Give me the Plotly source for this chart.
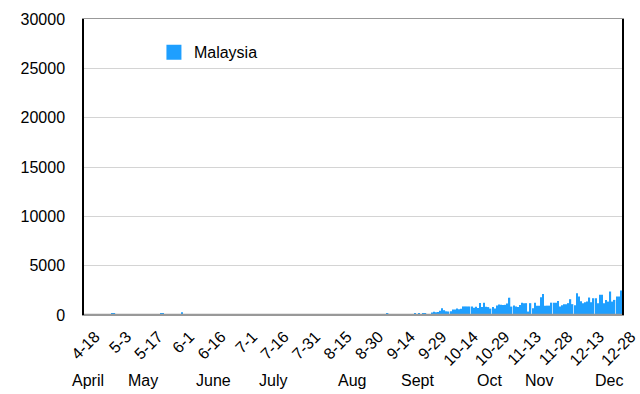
import plotly.graph_objects as go

# Daily new cases, one bar per reporting day (first bar labelled 4-18, last 12-28)
cases = [
    # Apr
    84, 36, 57, 50, 71, 88, 51, 38, 40, 31, 94, 57,
    # May
    69, 105, 122, 55, 30, 45, 39, 68, 54, 67, 70, 16, 37, 40, 36, 17, 22, 47, 37, 31,
    50, 78, 48, 60, 172, 187, 15, 10, 30, 38, 30,
    # Jun
    38, 20, 93, 277, 19, 37, 19, 7, 2, 7, 31, 33, 0, 7, 41, 10, 6, 8, 10, 9,
    3, 15, 4, 2, 6, 4, 6, 3, 3, 4,
    # Jul
    3, 1, 3, 3, 2, 8, 3, 5, 6, 4, 3, 8, 11, 3, 8, 4, 5, 10, 15, 18,
    10, 21, 13, 23, 15, 2, 7, 14, 9, 5, 12,
    # Aug
    11, 6, 13, 20, 11, 7, 13, 8, 22, 3, 15, 28, 25, 20, 7, 5, 6, 5, 18, 7,
    9, 5, 4, 2, 10, 7, 6, 9, 11, 4, 17,
    # Sep
    6, 2, 6, 21, 100, 62, 6, 20, 6, 182, 8, 20, 18, 2, 10, 21, 10, 23, 52, 45,
    57, 82, 147, 71, 111, 62, 115, 150, 101, 89,
    # Oct
    260, 317, 287, 293, 432, 691, 489, 375, 354, 374, 561, 563, 660, 589, 629, 869,
    871, 865, 862, 866, 732, 847, 710, 1228, 823, 1240, 835, 801, 649, 799, 659,
    # Nov
    957, 1054, 1032, 1009, 1032, 1168, 1755, 852, 972, 869, 822, 1011, 1250, 1200,
    1200, 350, 1200, 680, 1250, 950, 950, 1800, 2140, 950, 950, 950, 1250, 1250,
    1250, 1430,
    # Dec
    850, 1000, 1100, 1100, 1200, 1600, 1100, 1000, 2200, 1870, 1400, 1200, 1300,
    1370, 1770, 1295, 1700, 1700, 1200, 2040, 2040, 1200, 1530, 1360, 2380, 1360,
    1530, 1870, 1870, 2480,
]

tick_labels = ["4-18", "5-3", "5-17", "6-1", "6-16", "7-1", "7-16", "7-31", "8-15",
               "8-30", "9-14", "9-29", "10-14", "10-29", "11-13", "11-28", "12-13", "12-28"]
tick_step = 15

months = ["April", "May", "June", "July", "Aug", "Sept", "Oct", "Nov", "Dec"]
month_pos = [0.008, 0.110, 0.240, 0.351, 0.498, 0.619, 0.753, 0.846, 0.976]

series_name = "Malaysia"
bar_color = "#1E9FFF"
FONT = "Liberation Sans, Arial, Helvetica, sans-serif"

idx = list(range(len(cases)))

fig = go.Figure()
fig.add_trace(go.Bar(x=idx, y=cases, marker=dict(color=bar_color, line=dict(width=0)),
                     showlegend=False, name=series_name))
# legend swatch
fig.add_trace(go.Scatter(x=[None], y=[None], mode="markers", name=series_name,
                         marker=dict(symbol="square", size=15, color=bar_color)))

for m, p in zip(months, month_pos):
    fig.add_annotation(text=m, x=p, y=-0.22, xref="paper", yref="paper",
                       showarrow=False, xanchor="center", yanchor="middle",
                       font=dict(size=16, color="#000", family=FONT))

# baseline drawn over the bottom of the bars (as in the reference)
fig.add_shape(type="line", xref="paper", yref="y", x0=0, x1=1, y0=0, y1=0,
              line=dict(color="#999999", width=2.5), layer="above")

fig.update_layout(
    width=640, height=394,
    margin=dict(l=84, r=18, t=19, b=79, autoexpand=False),
    paper_bgcolor="white", plot_bgcolor="white",
    font=dict(family=FONT, size=16, color="#000"),
    bargap=0.35,
    legend=dict(x=0.130, y=0.945, xanchor="left", yanchor="top",
                bgcolor="rgba(0,0,0,0)", font=dict(size=16, family=FONT),
                itemsizing="trace"),
    xaxis=dict(
        range=[-0.5, len(cases) - 0.5],
        tickmode="array",
        tickvals=idx[::tick_step],
        ticktext=tick_labels,
        tickangle=-45,
        tickfont=dict(size=16, family=FONT),
        ticklabelshift=10, ticklabelstandoff=5,
        showgrid=False, zeroline=False, automargin=False,
        showline=True, linecolor="#999999", linewidth=1, mirror=True,
        ticks="",
    ),
    yaxis=dict(
        range=[0, 30000], dtick=5000, tickformat="d",
        tickfont=dict(size=16, family=FONT),
        showgrid=True, gridcolor="#d4d4d4", gridwidth=1,
        zeroline=False, automargin=False,
        showline=True, linecolor="#000", linewidth=1.5, mirror=True,
        ticks="", ticklabelstandoff=14,
    ),
)

fig.write_html("out.html", config={"displayModeBar": False},
               post_script="document.body.style.margin='0';document.body.style.overflow='hidden';")
